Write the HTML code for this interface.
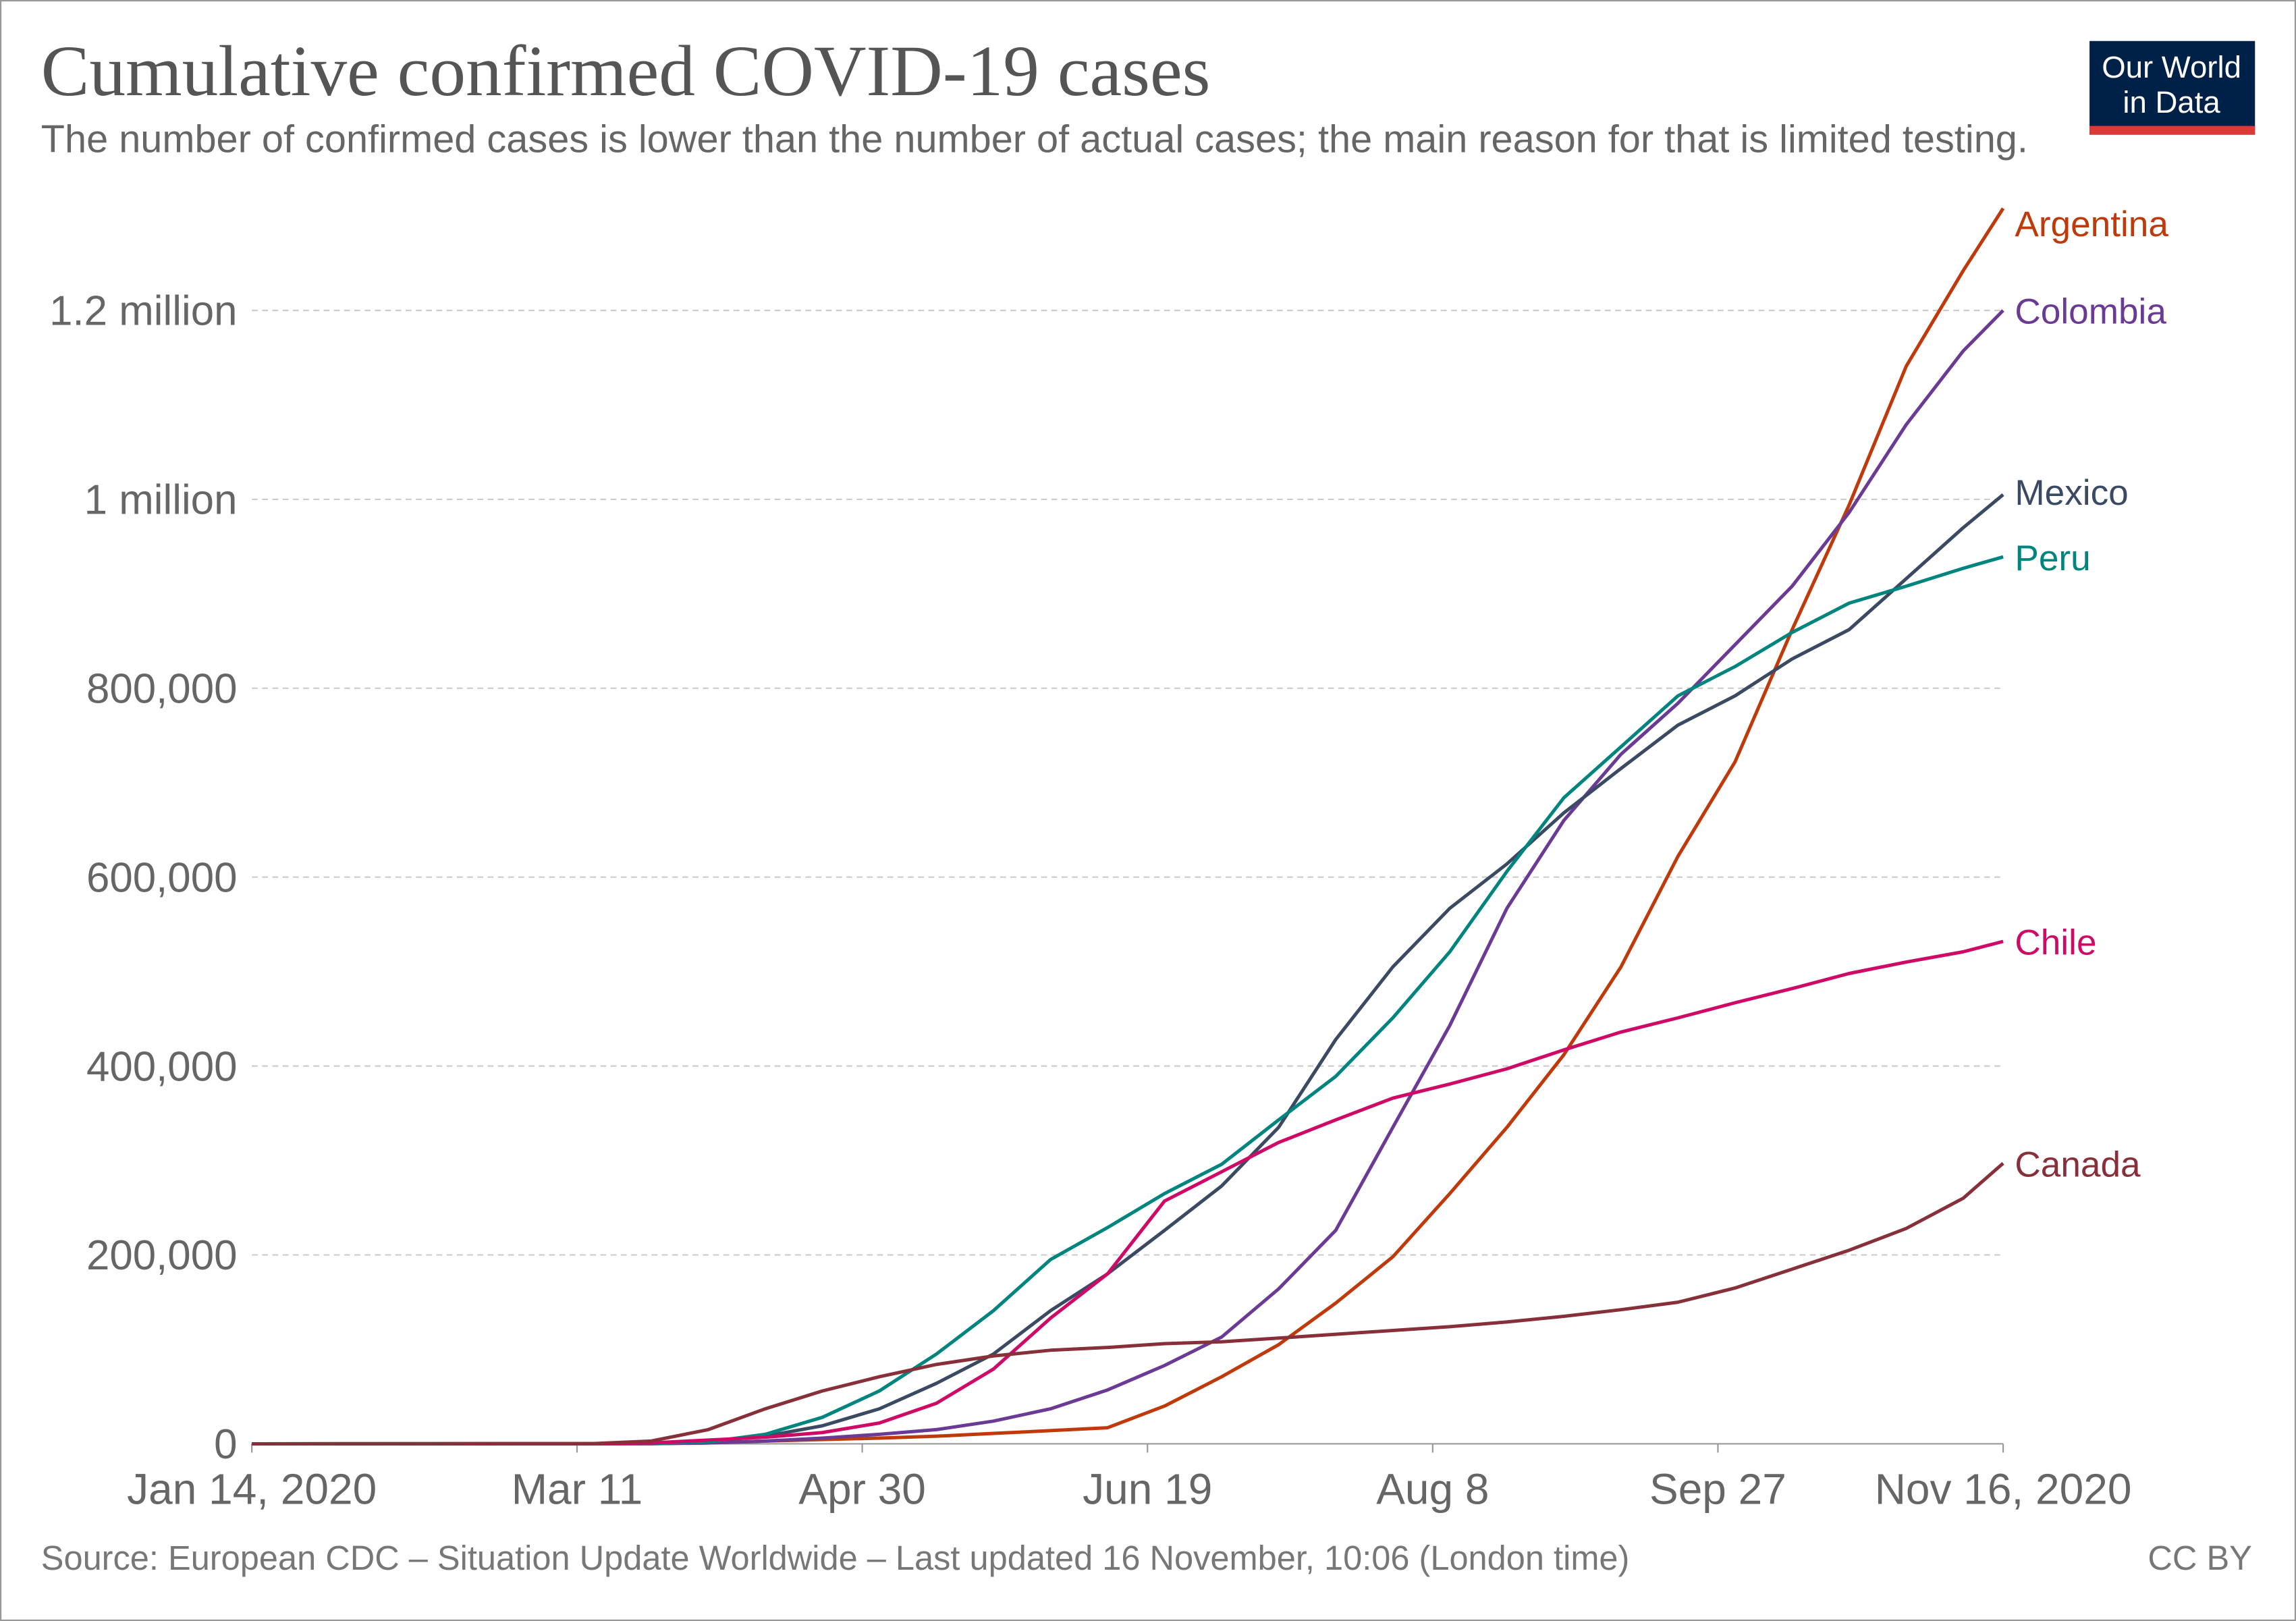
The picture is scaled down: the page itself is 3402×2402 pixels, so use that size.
<!DOCTYPE html>
<html><head><meta charset="utf-8">
<style>
html,body{margin:0;padding:0;background:#fff;}
svg{display:block;}
</style></head>
<body>
<svg id="chart" width="3402" height="2402" viewBox="0 0 1568 1107" preserveAspectRatio="none" xmlns="http://www.w3.org/2000/svg" font-family="Liberation Sans, sans-serif">
<rect x="0.5" y="0.5" width="1567" height="1106" fill="#fff" stroke="#999" stroke-width="1"/>
<text x="28" y="65" style="font-family:'Liberation Serif',serif" font-size="49.5" fill="#555">Cumulative confirmed COVID-19 cases</text>
<text x="28" y="104" font-size="26.6" fill="#666">The number of confirmed cases is lower than the number of actual cases; the main reason for that is limited testing.</text>
<g>
<rect x="1427" y="28" width="113" height="64" fill="#002147"/>
<rect x="1427" y="86" width="113" height="6" fill="#dc3a36"/>
<text x="1483" y="53" text-anchor="middle" font-size="21" fill="#fff">Our World</text>
<text x="1483" y="77" text-anchor="middle" font-size="21" fill="#fff">in Data</text>
</g>
<g id="grid"></g>
<g id="xaxis"></g>
<g id="series"></g>
<text x="28" y="1072" font-size="23.3" fill="#777">Source: European CDC – Situation Update Worldwide – Last updated 16 November, 10:06 (London time)</text>
<text x="1538" y="1072" text-anchor="end" font-size="23.3" fill="#777">CC BY</text>
</svg>
<script>
const days = [0,60,70,80,90,100,110,120,130,140,150,160,170,180,190,200,210,220,230,240,250,260,270,280,290,300,307];
const argentina = [0,0,0.1,1,3,4.5,6,8,11,14,17,40,71,105,149,198,265,335,412,505,622,722,862,994,1141,1242,1308];
const colombia = [0,0,0.2,1,3,6,10,15,24,37,57,83,113,164,226,335,443,567,660,730,784,846,908,986,1079,1157,1200];
const mexico = [0,0.1,0.7,3,8,19,37,64,95,141,180,226,273,335,428,505,567,614,668,715,761,792,831,862,916,970,1005];
const peru = [0,0,0.6,2,10,28,56,95,141,195,229,265,296,343,389,451,521,606,684,738,792,823,859,890,908,927,939];
const chile = [0,0.1,1,4,7,12,22,43,79,133,180,257,288,319,343,366,381,397,417,436,451,467,482,498,510,521,532];
const canada = [0,0.3,3,15,37,56,71,84,93,99,102,106,108,112,116,120,124,129,135,142,150,165,185,205,228,260,297];
const seriesNames = ["Argentina","Colombia","Mexico","Peru","Chile","Canada"];
const seriesColors = ["#c0390b","#6b3a95","#3a4a62","#00847e","#cf0a66","#883039"];
const yTicks = [0,200,400,600,800,1000,1200];
const yTickLabels = ["0","200,000","400,000","600,000","800,000","1 million","1.2 million"];
const xTickDays = [0,57,107,157,207,257,307];
const xTickLabels = ["Jan 14, 2020","Mar 11","Apr 30","Jun 19","Aug 8","Sep 27","Nov 16, 2020"];

const X0=172, X1=1368, Y0=986, Ypx=129/200;
function xs(d){return X0+d*(X1-X0)/307;}
function ys(v){return Y0-v*Ypx;}
const NS="http://www.w3.org/2000/svg";
function mk(tag,attrs,parent,txt){const e=document.createElementNS(NS,tag);for(const k in attrs)e.setAttribute(k,attrs[k]);if(txt!==undefined)e.textContent=txt;parent.appendChild(e);return e;}
const grid=document.getElementById('grid');
yTicks.forEach((t,i)=>{
  if(t>0){const l=mk('line',{x1:X0,x2:X1,y1:ys(t),y2:ys(t),stroke:'#ccc','stroke-dasharray':'4,3','stroke-width':1},grid);
  
  }
  const tx=mk('text',{x:162,y:ys(t)+10,'text-anchor':'end','font-size':28.5,fill:'#666'},grid,yTickLabels[i]);
  
  
});
const xa=document.getElementById('xaxis');
const ax=mk('line',{x1:X0,x2:X1,y1:Y0,y2:Y0,stroke:'#999','stroke-width':1},xa);


xTickDays.forEach((d,i)=>{
  const tk=mk('line',{x1:xs(d),x2:xs(d),y1:Y0,y2:Y0+6,stroke:'#999'},xa);
  
  
  const tx=mk('text',{x:xs(d),y:1027,'text-anchor':'middle','font-size':29.5,fill:'#666'},xa,xTickLabels[i]);
  
  
});
const labelAdjust=[10,0,-2,0,0,0];
const sg=document.getElementById('series');
[argentina,colombia,mexico,peru,chile,canada].forEach((vals,i)=>{
  const pts=vals.map((v,j)=>xs(days[j]).toFixed(1)+','+ys(v).toFixed(1)).join(' ');
  const pl=mk('polyline',{points:pts,fill:'none',stroke:seriesColors[i],'stroke-width':2.3,'stroke-linejoin':'round'},sg);
  
  
  const lb=mk('text',{x:1376,y:ys(vals[vals.length-1])+9+labelAdjust[i],'font-size':24.5,fill:seriesColors[i]},sg,seriesNames[i]);
  
  
});
</script>
</body></html>
